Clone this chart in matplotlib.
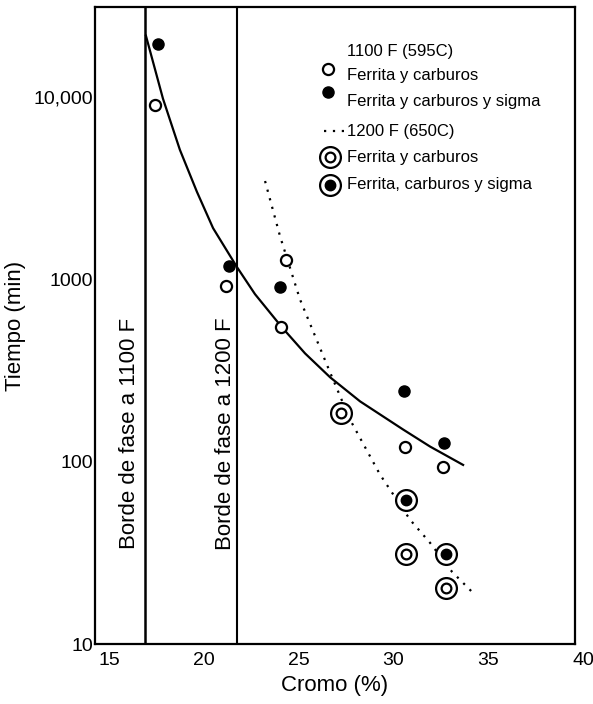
import numpy as np
import matplotlib
matplotlib.use('Agg')
import matplotlib.pyplot as plt
import matplotlib.transforms as mtransforms

plt.rcParams['font.family'] = ['Liberation Sans', 'DejaVu Sans']

# phase borders (% Cr)
border_1100 = 16.9
border_1200 = 21.75

# 1100 F (595C) data
cr_open_1100 = [17.43, 21.17, 24.07, 24.34, 30.61, 32.62]
t_open_1100 = [9040, 912, 545, 1270, 121, 93]
cr_fill_1100 = [17.58, 21.33, 24.02, 30.56, 32.67]
t_fill_1100 = [19500, 1180, 903, 243, 126]

# 1200 F (650C) data
cr_open_1200 = [27.24, 30.66, 32.77]
t_open_1200 = [184, 31.3, 20.3]
cr_fill_1200 = [30.66, 32.77]
t_fill_1200 = [61.9, 31.3]

# fitted curves
cr_fit_1100 = [16.95, 17.85, 18.74, 19.64, 20.49, 21.75, 22.70, 24.12, 25.34, 26.66,
               28.24, 30.51, 31.93, 33.67]
t_fit_1100 = [21600, 9750, 5120, 3010, 1905, 1165, 828, 545, 392, 290,
              214, 150, 121, 96]
cr_fit_1200 = [23.23, 24.02, 25.07, 26.66, 27.71, 29.29, 30.88, 31.93, 33.09, 34.15]
t_fit_1200 = [3450, 1720, 776, 308, 170, 85, 48, 35.9, 24.9, 19.3]

xticks = [15, 20, 25, 30, 35]
yticks = [10, 100, 1000, 10000]
ytick_labels = ['10', '100', '1000', '10,000']

fig = plt.figure(figsize=(5.93, 7.04), dpi=100)
ax = fig.add_axes([0.160, 0.085, 0.810, 0.905])

k = 'black'

ax.axvline(border_1100, color=k, lw=1.8)
ax.axvline(border_1200, color=k, lw=1.5)

ax.plot(cr_fit_1100, t_fit_1100, color=k, lw=1.6)
ax.plot(cr_fit_1200, t_fit_1200, color=k, lw=1.6, linestyle=(0, (1, 3)))

ax.plot(cr_open_1100, t_open_1100, 'o', ms=8, mfc='white', mec=k, mew=1.6, ls='none')
ax.plot(cr_fill_1100, t_fill_1100, 'o', ms=8, mfc=k, mec=k, ls='none')

ax.plot(cr_open_1200, t_open_1200, 'o', ms=15, mfc='white', mec=k, mew=1.6, ls='none')
ax.plot(cr_open_1200, t_open_1200, 'o', ms=7, mfc='white', mec=k, mew=1.6, ls='none')
ax.plot(cr_fill_1200, t_fill_1200, 'o', ms=15, mfc='white', mec=k, mew=1.6, ls='none')
ax.plot(cr_fill_1200, t_fill_1200, 'o', ms=7.5, mfc=k, mec=k, ls='none')

ax.text(16.11, 0.331, 'Borde de fase a 1100 F', rotation=90, ha='center', va='center',
        fontsize=16, transform=ax.get_xaxis_transform())
ax.text(21.12, 0.331, 'Borde de fase a 1200 F', rotation=90, ha='center', va='center',
        fontsize=16, transform=ax.get_xaxis_transform())

# key
fs = 12
tx = 0.525
ax.text(tx, 0.931, '1100 F (595C)', transform=ax.transAxes, fontsize=fs, va='center')
ax.plot([0.485], [0.903], 'o', ms=8, mfc='white', mec=k, mew=1.6, transform=ax.transAxes)
ax.text(tx, 0.892, 'Ferrita y carburos', transform=ax.transAxes, fontsize=fs, va='center')
ax.plot([0.485], [0.866], 'o', ms=8, mfc=k, mec=k, transform=ax.transAxes)
ax.text(tx, 0.852, 'Ferrita y carburos y sigma', transform=ax.transAxes, fontsize=fs, va='center')
ax.plot([0.478, 0.518], [0.805, 0.805], color=k, lw=1.6, linestyle=(0, (1, 3)),
        transform=ax.transAxes)
ax.text(tx, 0.805, '1200 F (650C)', transform=ax.transAxes, fontsize=fs, va='center')
ax.plot([0.49], [0.764], 'o', ms=15, mfc='white', mec=k, mew=1.6, transform=ax.transAxes)
ax.plot([0.49], [0.764], 'o', ms=7, mfc='white', mec=k, mew=1.6, transform=ax.transAxes)
ax.text(tx, 0.764, 'Ferrita y carburos', transform=ax.transAxes, fontsize=fs, va='center')
ax.plot([0.49], [0.721], 'o', ms=15, mfc='white', mec=k, mew=1.6, transform=ax.transAxes)
ax.plot([0.49], [0.721], 'o', ms=7.5, mfc=k, mec=k, transform=ax.transAxes)
ax.text(tx, 0.721, 'Ferrita, carburos y sigma', transform=ax.transAxes, fontsize=fs, va='center')

ax.set_yscale('log')
ax.set_xlim(14.26, 39.58)
ax.set_ylim(10, 31000)
ax.set_xticks(xticks)
ax.set_xticklabels([str(v) for v in xticks])
ax.set_yticks(yticks)
ax.set_yticklabels(ytick_labels)
ax.minorticks_off()
ax.tick_params(axis='both', length=0, labelsize=14)
ax.tick_params(axis='y', pad=1)
ax.tick_params(axis='x', pad=6)

# the 40 label sits past the right edge of the frame
off = mtransforms.offset_copy(ax.get_xaxis_transform(), fig=fig, x=0, y=-6, units='points')
ax.text(40, 0, '40', transform=off, ha='center', va='top', fontsize=14, clip_on=False)

for s in ax.spines.values():
    s.set_linewidth(1.6)

ax.set_xlabel('Cromo (%)', fontsize=16, labelpad=4)
ax.set_ylabel('Tiempo (min)', fontsize=16, labelpad=6)

fig.savefig('out.png', dpi=100)
